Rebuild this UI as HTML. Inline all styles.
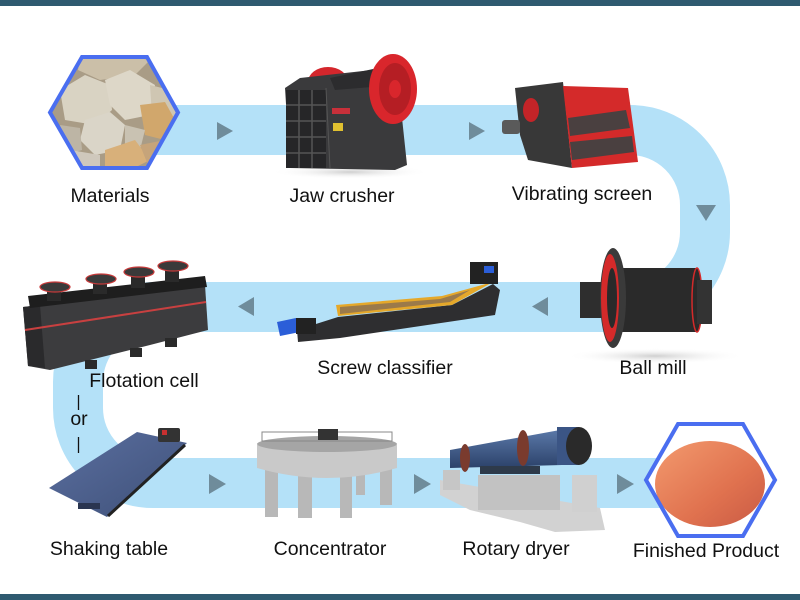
<!DOCTYPE html>
<html><head><meta charset="utf-8"><style>
html,body{margin:0;padding:0;background:#fff;}
svg{display:block;}
text{font-family:"Liberation Sans",Arial,sans-serif;font-size:19.5px;fill:#111;}
</style></head><body>
<svg width="800" height="600" viewBox="0 0 800 600" xmlns="http://www.w3.org/2000/svg">
<defs>
<clipPath id="hex1"><polygon points="50,112.5 82,57 147,57 178,112.5 147,168 82,168"/></clipPath>
<linearGradient id="sand" x1="0" y1="0" x2="1" y2="1"><stop offset="0" stop-color="#f39a6e"/><stop offset="0.6" stop-color="#e0724f"/><stop offset="1" stop-color="#c95a44"/></linearGradient>
<linearGradient id="deck" x1="0" y1="0" x2="1" y2="1"><stop offset="0" stop-color="#5b6fa0"/><stop offset="1" stop-color="#3e5078"/></linearGradient>
<linearGradient id="drum" x1="0" y1="0" x2="0" y2="1"><stop offset="0" stop-color="#5a78a8"/><stop offset="1" stop-color="#2c426a"/></linearGradient>
<radialGradient id="shadow"><stop offset="0" stop-color="#cfcfcf"/><stop offset="1" stop-color="#fff" stop-opacity="0"/></radialGradient>
</defs>
<rect x="0" y="0" width="800" height="600" fill="#fff"/>
<rect x="0" y="0" width="800" height="6" fill="#2f5a70"/>
<rect x="0" y="594" width="800" height="6" fill="#2f5a70"/>

<!-- band -->
<path d="M150,130 L630,130 A75,75 0 0 1 705,205 L705,232 A75,75 0 0 1 630,307 L153,307 A75,75 0 0 0 78,382 L78,408 A75,75 0 0 0 153,483 L660,483" fill="none" stroke="#b4e1f8" stroke-width="50"/>

<!-- arrows -->
<g fill="#6f8c9b">
<polygon points="217,122 233,131 217,140"/>
<polygon points="469,122 485,131 469,140"/>
<polygon points="696,205 716,205 706,221"/>
<polygon points="548,297 548,316 532,306.5"/>
<polygon points="254,297 254,316 238,306.5"/>
<polygon points="209,474 226,484 209,494"/>
<polygon points="414,474 431,484 414,494"/>
<polygon points="617,474 634,484 617,494"/>
</g>

<!-- shadows -->
<ellipse cx="350" cy="172" rx="80" ry="7" fill="url(#shadow)"/>
<ellipse cx="655" cy="356" rx="90" ry="8" fill="url(#shadow)"/>

<!-- Materials hexagon -->
<g clip-path="url(#hex1)">
<rect x="45" y="55" width="140" height="115" fill="#a99c86"/>
<polygon points="80,58 120,55 150,60 135,75 100,80 78,70" fill="#cbbfa8"/>
<polygon points="60,90 85,75 110,85 112,110 95,125 65,120" fill="#d9d3c3"/>
<polygon points="105,80 130,70 155,85 150,115 125,120 110,105" fill="#ddd7c8"/>
<polygon points="150,85 170,90 178,112 165,125 152,115" fill="#cfc6b2"/>
<polygon points="85,120 110,112 125,125 120,150 95,155 80,140" fill="#dad5c8"/>
<polygon points="140,105 165,102 175,120 165,140 145,135" fill="#d1a76c"/>
<polygon points="125,125 145,130 140,150 125,150" fill="#c9c2b2"/>
<polygon points="60,125 80,128 82,150 65,155" fill="#bdb5a5"/>
<polygon points="105,150 135,140 150,160 130,170 105,170" fill="#d8b07a"/>
<polygon points="70,150 100,155 100,170 72,170" fill="#cfc8bc"/>
<polygon points="140,145 165,140 175,160 150,170" fill="#c6a47a"/>
</g>
<polygon points="50,112.5 82,57 147,57 178,112.5 147,168 82,168" fill="none" stroke="#4a6ef0" stroke-width="4"/>

<!-- Jaw crusher -->
<ellipse cx="328" cy="82" rx="20" ry="15" fill="#d4262c"/>
<polygon points="285,88 300,78 372,70 398,80 407,165 395,170 290,168" fill="#3a3a3c"/>
<polygon points="330,78 378,68 384,86 335,90" fill="#2c2c2e"/>
<rect x="286" y="90" width="40" height="78" fill="#262628"/>
<g stroke="#555" stroke-width="1.5">
<line x1="286" y1="105" x2="326" y2="105"/><line x1="286" y1="121" x2="326" y2="121"/>
<line x1="286" y1="137" x2="326" y2="137"/><line x1="286" y1="153" x2="326" y2="153"/>
<line x1="299" y1="90" x2="299" y2="168"/><line x1="312" y1="90" x2="312" y2="168"/>
</g>
<line x1="326" y1="88" x2="330" y2="168" stroke="#555" stroke-width="1"/>
<rect x="332" y="108" width="18" height="6" fill="#c8303a"/>
<rect x="333" y="123" width="10" height="8" fill="#e0c030"/>
<ellipse cx="393" cy="89" rx="24" ry="35" fill="#d9262c"/>
<ellipse cx="395" cy="89" rx="16" ry="26" fill="#b51e24"/>
<ellipse cx="395" cy="89" rx="6" ry="9" fill="#d9262c"/>

<!-- Vibrating screen -->
<polygon points="515,88 563,82 572,168 528,160 520,135" fill="#383838"/>
<polygon points="563,86 628,88 638,162 572,168" fill="#d42a2a"/>
<polygon points="568,118 626,110 630,128 570,136" fill="#4a4040"/>
<polygon points="570,142 632,136 634,152 572,160" fill="#4a4040"/>
<ellipse cx="531" cy="110" rx="8" ry="12" fill="#c42428"/>
<rect x="502" y="120" width="18" height="14" rx="3" fill="#5a5a5a"/>

<!-- Ball mill -->
<rect x="620" y="268" width="77" height="64" fill="#2a2a2a"/>
<ellipse cx="697" cy="300" rx="5" ry="32" fill="#2a2a2a" stroke="#d42a2a" stroke-width="1.5"/>
<rect x="697" y="280" width="15" height="44" fill="#333"/>
<rect x="580" y="282" width="24" height="36" fill="#2e2e2e"/>
<ellipse cx="613" cy="298" rx="13" ry="50" fill="#3a3a3a"/>
<ellipse cx="610" cy="298" rx="9" ry="44" fill="#d42a2a"/>
<ellipse cx="612" cy="298" rx="5" ry="30" fill="#2a2a2a"/>

<!-- Screw classifier -->
<polygon points="297,330 338,317 452,305 493,284 500,290 495,315 340,338 298,342" fill="#2e2e30"/>
<polygon points="336,305 442,296 493,282 452,305 338,316" fill="#e5a82a"/>
<polygon points="340,307 440,299 470,290 450,302 340,314" fill="#9b7a4a"/>
<rect x="470" y="262" width="28" height="22" fill="#222"/>
<rect x="484" y="266" width="10" height="7" fill="#2b5ed8"/>
<polygon points="277,322 296,318 300,332 280,336" fill="#2b5ed8"/>
<rect x="296" y="318" width="20" height="16" fill="#222"/>

<!-- Flotation cell -->
<polygon points="23,307 205,285 208,330 150,345 50,370 28,366" fill="#3c3c3e"/>
<polygon points="23,307 40,305 45,368 28,366" fill="#2a2a2c"/>
<line x1="25" y1="330" x2="206" y2="302" stroke="#c84040" stroke-width="2"/>
<polygon points="28,296 205,276 207,287 30,308" fill="#1e1e1e"/>
<g fill="#2a2a2a">
<rect x="47" y="287" width="14" height="14"/><rect x="93" y="280" width="14" height="14"/>
<rect x="131" y="274" width="14" height="14"/><rect x="165" y="268" width="14" height="14"/>
<rect x="85" y="360" width="12" height="9"/><rect x="130" y="348" width="12" height="9"/>
<rect x="165" y="338" width="12" height="9"/>
</g>
<g>
<ellipse cx="55" cy="287" rx="15" ry="5" fill="#3a3a3a" stroke="#c83a3a" stroke-width="1.2"/>
<ellipse cx="101" cy="279" rx="15" ry="5" fill="#3a3a3a" stroke="#c83a3a" stroke-width="1.2"/>
<ellipse cx="139" cy="272" rx="15" ry="5" fill="#3a3a3a" stroke="#c83a3a" stroke-width="1.2"/>
<ellipse cx="173" cy="266" rx="15" ry="5" fill="#3a3a3a" stroke="#c83a3a" stroke-width="1.2"/>
</g>

<!-- Shaking table -->
<polygon points="49,488 137,432 187,443 107,517" fill="url(#deck)"/>
<line x1="185" y1="445" x2="108" y2="516" stroke="#222" stroke-width="3"/>
<rect x="158" y="428" width="22" height="14" rx="2" fill="#333"/>
<rect x="162" y="430" width="5" height="5" fill="#c83030"/>
<rect x="78" y="503" width="22" height="6" fill="#2a3550"/>

<!-- Concentrator -->
<g fill="#b8b8b8">
<rect x="265" y="465" width="13" height="52"/><rect x="298" y="470" width="14" height="48"/>
<rect x="340" y="470" width="12" height="48"/><rect x="380" y="465" width="12" height="40"/>
<rect x="356" y="470" width="9" height="25"/>
</g>
<path d="M257,445 L257,468 Q327,488 397,468 L397,445 Z" fill="#c9c9c9"/>
<ellipse cx="327" cy="444" rx="70" ry="8" fill="#a5a5a5"/>
<rect x="262" y="432" width="130" height="9" fill="none" stroke="#888" stroke-width="1"/>
<rect x="318" y="429" width="20" height="11" fill="#333"/>

<!-- Rotary dryer -->
<polygon points="440,480 600,508 605,530 555,532 520,522 470,510 440,495" fill="#d2d2d2"/>
<rect x="443" y="470" width="17" height="20" fill="#c6c6c6"/>
<rect x="478" y="475" width="82" height="35" fill="#c2c2c2"/>
<rect x="572" y="475" width="25" height="37" fill="#d0d0d0"/>
<polygon points="450,450 560,430 562,465 450,468" fill="url(#drum)"/>
<rect x="557" y="427" width="22" height="38" fill="#3b5585"/>
<ellipse cx="579" cy="446" rx="13" ry="19" fill="#2a2a2a"/>
<ellipse cx="465" cy="458" rx="5" ry="14" fill="#7a3b2e"/>
<ellipse cx="523" cy="448" rx="6" ry="18" fill="#7a3b2e"/>
<rect x="480" y="466" width="60" height="8" fill="#2e3a4a"/>

<!-- Finished product hexagon -->
<polygon points="646,480 678,424 743,424 775,480 743,536 678,536" fill="#fff"/>
<ellipse cx="710" cy="484" rx="55" ry="43" fill="url(#sand)"/>
<polygon points="646,480 678,424 743,424 775,480 743,536 678,536" fill="none" stroke="#4a6ef0" stroke-width="4"/>

<!-- labels -->
<text x="110" y="202" text-anchor="middle">Materials</text>
<text x="342" y="202" text-anchor="middle">Jaw crusher</text>
<text x="582" y="200" text-anchor="middle">Vibrating screen</text>
<text x="653" y="374" text-anchor="middle">Ball mill</text>
<text x="385" y="374" text-anchor="middle">Screw classifier</text>
<text x="144" y="387" text-anchor="middle">Flotation cell</text>
<text x="79" y="425" text-anchor="middle">or</text>
<line x1="78.5" y1="395" x2="78.5" y2="410" stroke="#111" stroke-width="1.3"/>
<line x1="78.5" y1="437" x2="78.5" y2="453" stroke="#111" stroke-width="1.3"/>
<text x="109" y="555" text-anchor="middle">Shaking table</text>
<text x="330" y="555" text-anchor="middle">Concentrator</text>
<text x="516" y="555" text-anchor="middle">Rotary dryer</text>
<text x="706" y="557" text-anchor="middle">Finished Product</text>
</svg>
</body></html>
